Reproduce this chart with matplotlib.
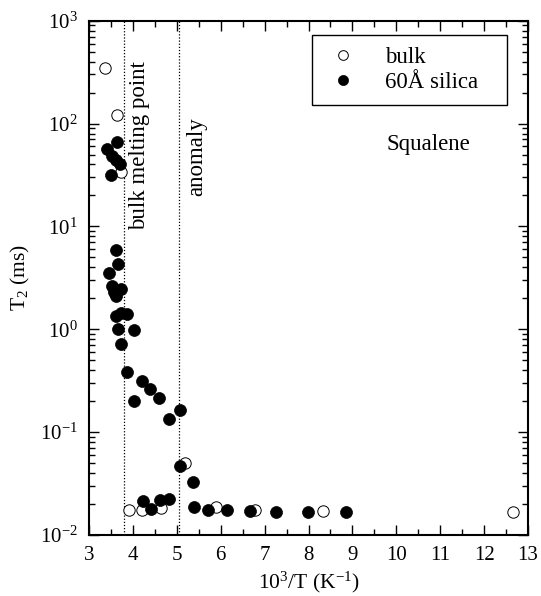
import matplotlib
matplotlib.use("Agg")
import matplotlib.pyplot as plt
from matplotlib.ticker import LogLocator, MultipleLocator, NullFormatter

plt.rcParams['font.family'] = ['Liberation Serif', 'DejaVu Serif']
plt.rcParams['mathtext.fontset'] = 'stix'
plt.rcParams['font.size'] = 16.5
plt.rcParams['axes.unicode_minus'] = False

# bulk squalene (open circles)
bulk_x = [3.36, 3.63, 3.74, 3.90, 4.20, 4.63, 5.19, 5.89, 6.78, 8.33, 12.66]
bulk_y = [344, 121, 34, 0.0176, 0.0176, 0.0182, 0.050, 0.0187, 0.0176, 0.0173, 0.0167]

# squalene in 60 Å silica (filled circles)
silica_x = [3.41, 3.64, 3.52, 3.62, 3.71, 3.50,
            3.62, 3.67, 3.46, 3.52, 3.72, 3.62, 3.58,
            3.62, 3.72, 3.87, 3.67, 4.02, 3.72,
            3.86, 4.21, 4.39, 4.03, 4.60, 5.07, 4.82,
            5.07, 5.37, 4.24, 4.41, 4.62, 4.83, 5.39, 5.72, 6.14,
            6.67, 7.25, 7.99, 8.86]
silica_y = [56.6, 66, 48, 44, 40.5, 31.7,
            5.9, 4.3, 3.5, 2.64, 2.45, 2.11, 2.3,
            1.35, 1.45, 1.40, 1.01, 0.986, 0.716,
            0.388, 0.317, 0.264, 0.203, 0.217, 0.165, 0.135,
            0.047, 0.0327, 0.0215, 0.0179, 0.022, 0.0225, 0.0189, 0.0176, 0.0176,
            0.0172, 0.0167, 0.0168, 0.0168]

vlines_x = [3.80, 5.05]
vline_labels = ["bulk melting point", "anomaly"]

fig = plt.figure(figsize=(5.41, 5.96), dpi=100)
ax = fig.add_axes([0.1645, 0.1023, 0.976 - 0.1645, 0.9653 - 0.1023])

ax.plot(bulk_x, bulk_y, 'o', ms=8.2, mfc='white', mec='black', mew=0.7,
        label='bulk', zorder=3)
ax.plot(silica_x, silica_y, 'o', ms=8.6, mfc='black', mec='black', mew=0.5,
        label='60Å silica', zorder=4)

for xv in vlines_x:
    ax.axvline(xv, color='black', ls=(0, (1, 1.5)), lw=0.9, zorder=1)

ax.text(4.16, 400, vline_labels[0], rotation=90, ha='center', va='top')
ax.text(5.46, 116, vline_labels[1], rotation=90, ha='center', va='top')
ax.text(9.77, 62, 'Squalene', ha='left', va='center')

ax.set_yscale('log')
ax.set_xlim(3, 13)
ax.set_ylim(1e-2, 1e3)
ax.xaxis.set_major_locator(MultipleLocator(1))
ax.xaxis.set_minor_locator(MultipleLocator(0.5))
ax.yaxis.set_major_locator(LogLocator(base=10, numticks=10))
ax.yaxis.set_minor_locator(LogLocator(base=10, subs=range(2, 10), numticks=20))
ax.yaxis.set_minor_formatter(NullFormatter())

ax.tick_params(which='both', direction='in', top=True, right=True, width=1,
               labelsize=15)
ax.tick_params(which='major', length=7, pad=8)
ax.tick_params(which='minor', length=4)
for s in ax.spines.values():
    s.set_linewidth(1.5)

ax.set_xlabel(r'$\mathregular{10^3}$/T (K$\mathregular{^{-1}}$)', labelpad=3, fontsize=15.5)
ax.set_ylabel(r'T$\mathregular{_2}$ (ms)', labelpad=6, fontsize=15.5)

leg = ax.legend(loc='upper left', bbox_to_anchor=(0.507, 0.972, 0.444, 0.0),
                mode='expand', frameon=True, fancybox=False, edgecolor='black',
                framealpha=1, borderpad=0.5, handletextpad=1.0, labelspacing=0.2,
                handlelength=1.7, borderaxespad=0, markerscale=0.85)
leg.get_frame().set_linewidth(1.0)

fig.savefig('out.png', dpi=100)
